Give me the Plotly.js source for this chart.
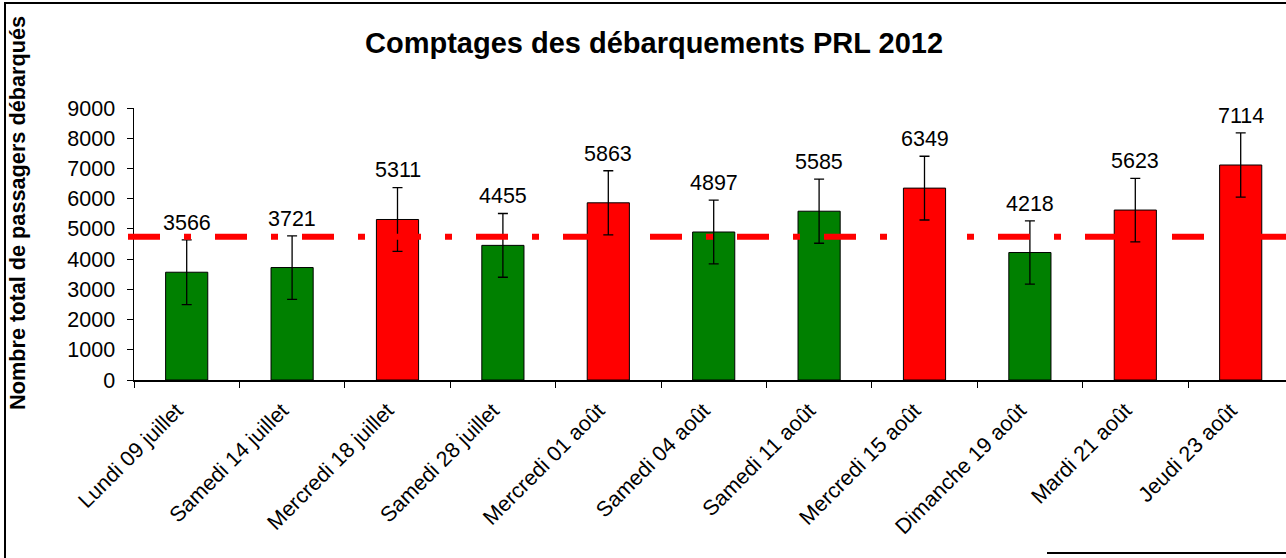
<!DOCTYPE html>
<html>
<head>
<meta charset="utf-8">
<script src="https://cdn.plot.ly/plotly-3.0.1.min.js"></script>
<style>
html,body{margin:0;padding:0;background:#fff;}
#chart{width:1286px;height:558px;}
</style>
</head>
<body>
<div id="chart"></div>
<script>
// ---- data ----
const categories = ["Lundi 09 juillet","Samedi 14 juillet","Mercredi 18 juillet","Samedi 28 juillet","Mercredi 01 août","Samedi 04 août","Samedi 11 août","Mercredi 15 août","Dimanche 19 août","Mardi 21 août","Jeudi 23 août"];
const passengers = [3566, 3721, 5311, 4455, 5863, 4897, 5585, 6349, 4218, 5623, 7114];
const errors = [1070, 1050, 1055, 1055, 1060, 1055, 1060, 1055, 1045, 1050, 1060];
const groups = ["bas","bas","haut","bas","haut","bas","bas","haut","bas","haut","haut"];
const referenceLevel = 4740;
const titleText = "Comptages des débarquements PRL 2012";
const yTitleText = "Nombre total de passagers débarqués";

// ---- styling ----
const FONT = "Liberation Sans, Arial, sans-serif";
const groupColor = {bas: "#008000", haut: "#FF0000"};
const LABEL_SIZE = 21.5;

const W = 1286, H = 558;
const L = 134, T = 108, B = 178;
const plotW = W - L;            // right margin 0, plot clipped at edge
const catW = 105.4;
const xMax = -0.5 + plotW / catW;

function px2paperX(px){ return (px - L) / plotW; }
function py2paperY(py){ return (H - B - py) / (H - B - T); }

const trace = {
  type: "bar",
  x: categories,
  y: passengers,
  width: 0.4,
  marker: {
    color: groups.map(g => groupColor[g]),
    line: {color: "#000", width: 1}
  },
  error_y: {type: "data", array: errors, visible: true, color: "#000", thickness: 1.3, width: 5},
  hoverinfo: "x+y",
  showlegend: false
};

const annotations = categories.map((c, i) => ({
  x: c, y: passengers[i], xref: "x", yref: "y",
  text: String(passengers[i]), showarrow: false,
  yanchor: "bottom", yshift: 35,
  font: {family: FONT, size: LABEL_SIZE, color: "#000"}
}));
annotations.push({
  xref: "paper", yref: "paper",
  x: px2paperX(17), y: py2paperY(213),
  text: yTitleText, textangle: -90, showarrow: false,
  xanchor: "center", yanchor: "middle",
  font: {family: FONT, size: 21.7, color: "#000", weight: "bold"}
});

const shapes = [
  // reference dash-dot line
  {type: "line", xref: "paper", yref: "y", x0: px2paperX(128), x1: 1, y0: referenceLevel, y1: referenceLevel,
   line: {color: "#FF0000", width: 6, dash: "32px,24px,7px,24px"}, layer: "above"},
  // outer chart frame
  {type: "rect", xref: "paper", yref: "paper", x0: px2paperX(5), x1: px2paperX(1300), y0: py2paperY(3), y1: py2paperY(600),
   line: {color: "#000", width: 2}, fillcolor: "rgba(0,0,0,0)", layer: "above"},
  // partial box at bottom right
  {type: "line", xref: "paper", yref: "paper", x0: px2paperX(1047), x1: px2paperX(1300), y0: py2paperY(553), y1: py2paperY(553),
   line: {color: "#000", width: 2}, layer: "above"}
];

const layout = {
  width: W, height: H,
  margin: {l: L, r: 0, t: T, b: B, pad: 0},
  paper_bgcolor: "#fff", plot_bgcolor: "#fff",
  font: {family: FONT, color: "#000"},
  title: {text: "<b>" + titleText + "</b>", font: {family: FONT, size: 29, color: "#000"},
          x: px2paperX(654), xanchor: "center", xref: "paper", y: 1 - 43 / H, yanchor: "middle", yref: "container"},
  xaxis: {
    type: "category", range: [-0.5, xMax],
    showline: true, linecolor: "#000", linewidth: 1.5,
    ticks: "outside", tickson: "boundaries", ticklen: 6, tickcolor: "#000", tickwidth: 1,
    tickangle: -45, tickfont: {family: FONT, size: LABEL_SIZE, color: "#000"},
    ticklabelstandoff: 8, ticklabelshift: -10,
    showgrid: false, zeroline: false, fixedrange: true
  },
  yaxis: {
    range: [0, 9000], dtick: 1000, tick0: 0,
    showline: true, linecolor: "#000", linewidth: 1.5,
    ticks: "outside", ticklen: 6, tickcolor: "#000", tickwidth: 1,
    tickfont: {family: FONT, size: LABEL_SIZE, color: "#000"},
    ticklabelstandoff: 7,
    showgrid: false, zeroline: false, fixedrange: true
  },
  bargap: 0.6,
  annotations: annotations,
  shapes: shapes
};

Plotly.newPlot("chart", [trace], layout, {displayModeBar: false, staticPlot: true});
</script>
</body>
</html>
